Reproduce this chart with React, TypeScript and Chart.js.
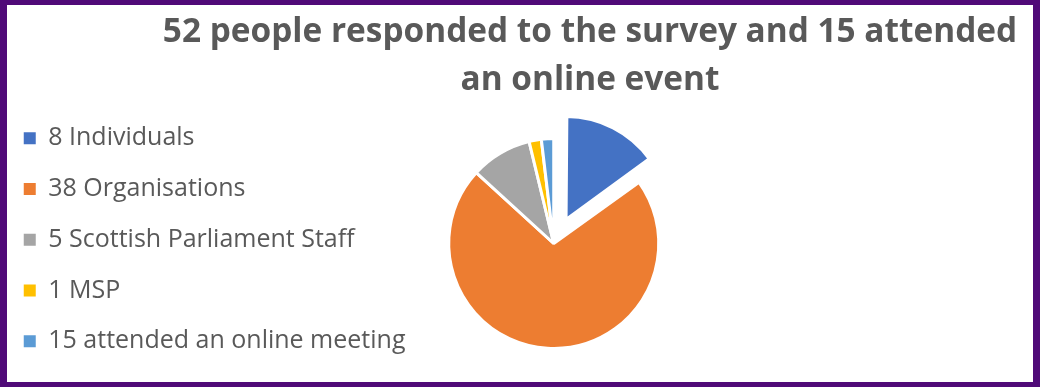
import React, { useEffect, useRef } from 'react';
import { Chart, registerables } from 'chart.js';

Chart.register(...registerables);

const TITLE_LINES = ['52 people responded to the survey and 15 attended', 'an online event'];
const LABELS = [
  '8 Individuals',
  '38 Organisations',
  '5 Scottish Parliament Staff',
  '1 MSP',
  '15 attended an online meeting',
];
const VALUES = [8, 38, 5, 1, 1];
const COLORS = ['#4472C4', '#ED7D31', '#A5A5A5', '#FFC000', '#5B9BD5'];
// how far each slice is pulled out of the pie, in pixels
const EXPLODE = [27, 0, 0, 0, 0];

const TEXT_COLOR = '#595959';
const TITLE_CENTER_X = 590;
const PIE_RADIUS = 105;

// Chart.js moves an arc by offset/4; keep the exploded slice the same size as the others
const explodeFix = {
  id: 'explodeFix',
  afterDatasetUpdate(chart: any, args: any) {
    const meta = chart.getDatasetMeta(args.index);
    meta.data.forEach((arc: any, i: number) => {
      const t = EXPLODE[i] || 0;
      if (!t) return;
      const circ = arc.endAngle - arc.startAngle;
      const fix = 1 - Math.sin(Math.min(Math.PI, circ));
      arc.outerRadius = arc.outerRadius - t * fix - 2;
    });
  },
};

const titleShift = {
  id: 'titleShift',
  afterLayout(chart: any) {
    const t = chart.titleBlock;
    if (t) {
      t.left = TITLE_CENTER_X - 500;
      t.right = TITLE_CENTER_X + 500;
      t.width = 1000;
    }
  },
};

export default function App() {
  const ref = useRef<HTMLCanvasElement | null>(null);
  useEffect(() => {
    if (!ref.current) return;
    const chart = new Chart(ref.current, {
      type: 'pie',
      data: {
        labels: LABELS,
        datasets: [
          {
            data: VALUES,
            backgroundColor: COLORS,
            borderColor: '#FFFFFF',
            borderWidth: 3,
            offset: EXPLODE.map((v) => v * 4),
          },
        ],
      },
      plugins: [titleShift, explodeFix],
      options: {
        responsive: false,
        animation: false,
        events: [],
        radius: PIE_RADIUS,
        layout: { padding: { left: -2, right: 348, top: 0, bottom: -2 } },
        plugins: {
          tooltip: { enabled: false },
          title: {
            display: true,
            text: TITLE_LINES,
            color: TEXT_COLOR,
            font: { family: "'Open Sans'", size: 33.4, weight: 'bold', lineHeight: '48px' },
            padding: { top: 8, bottom: -4 },
          },
          legend: {
            display: true,
            position: 'left',
            align: 'start',
            fullSize: false,
            maxWidth: 500,
            labels: {
              color: TEXT_COLOR,
              font: { family: "'Open Sans'", size: 25 },
              boxWidth: 12,
              boxHeight: 12,
              padding: 25.75,
              generateLabels(chart: any) {
                const base = (Chart as any).overrides.pie.plugins.legend.labels.generateLabels(chart);
                return base.map((it: any) => ({ ...it, lineWidth: 0, strokeStyle: it.fillStyle }));
              },
            },
          },
        },
      },
    } as any);
    return () => chart.destroy();
  }, []);

  return (
    <div style={{ position: 'relative', width: 1040, height: 387, background: '#FFFFFF' }}>
      <style>{'body{margin:0}'}</style>
      <canvas ref={ref} width={1040} height={387} style={{ display: 'block' }} />
      <div
        style={{
          position: 'absolute',
          left: 0,
          top: 0,
          width: 1040,
          height: 387,
          boxSizing: 'border-box',
          borderStyle: 'solid',
          borderColor: '#500A78',
          borderWidth: '5px 7px 5px 7px',
          pointerEvents: 'none',
        }}
      />
    </div>
  );
}
